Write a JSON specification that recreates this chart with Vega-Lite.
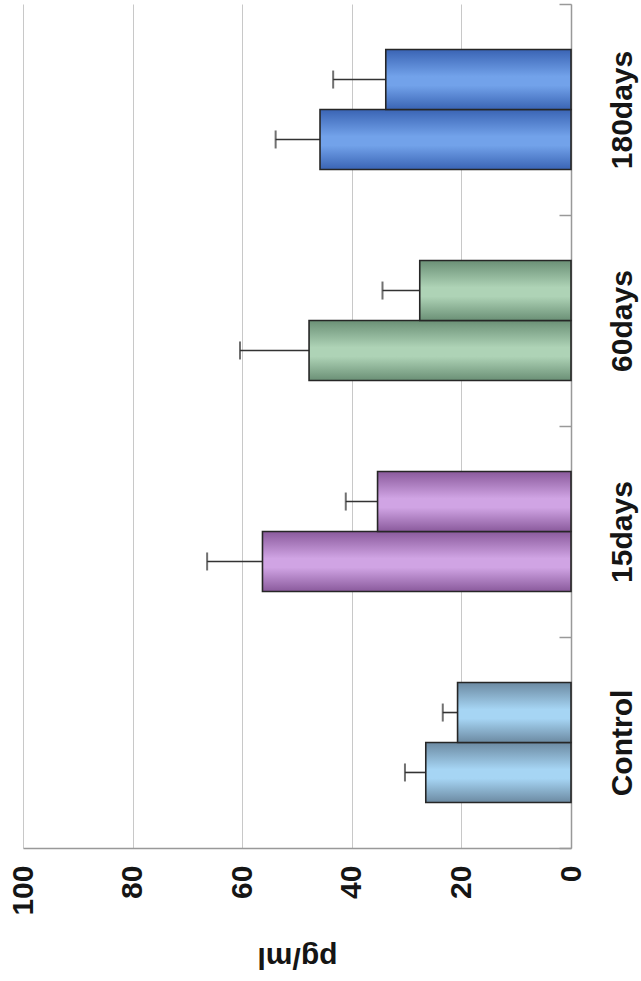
{
  "$schema": "https://vega.github.io/schema/vega-lite/v6.json",
  "width": 548,
  "height": 844,
  "autosize": {"type": "none"},
  "padding": {"left": 23, "top": 4, "right": 70, "bottom": 133},
  "background": "white",
  "config": {
    "view": {"stroke": null},
    "font": "Liberation Sans",
    "axisX": {
      "grid": true,
      "gridColor": "#c8c8c8",
      "gridWidth": 1,
      "domainColor": "#999999",
      "domainWidth": 1.5,
      "ticks": false,
      "labelAngle": -90,
      "labelAlign": "right",
      "labelBaseline": "middle",
      "labelFont": "Liberation Sans",
      "labelFontSize": 30,
      "labelFontWeight": "bold",
      "labelColor": "#151515",
      "labelPadding": 17,
      "titleAngle": 180,
      "titleBaseline": "bottom",
      "titleFont": "Liberation Sans",
      "titleFontSize": 30,
      "titleFontWeight": "bold",
      "titleColor": "#151515",
      "titlePadding": 26
    },
    "axisY": {
      "grid": false,
      "domainColor": "#999999",
      "domainWidth": 1.5,
      "ticks": true,
      "tickColor": "#999999",
      "tickSize": -12,
      "tickWidth": 1.5,
      "tickBand": "extent",
      "labelAngle": -90,
      "labelAlign": "center",
      "labelBaseline": "top",
      "labelFont": "Liberation Sans",
      "labelFontSize": 30,
      "labelFontWeight": "bold",
      "labelColor": "#151515",
      "labelPadding": 48
    }
  },
  "data": {
    "values": [
      {"group": "Control", "series": "S1", "value": 26.5, "hi": 30.3},
      {"group": "Control", "series": "S2", "value": 20.7, "hi": 23.4},
      {"group": "15days", "series": "S1", "value": 56.3, "hi": 66.4},
      {"group": "15days", "series": "S2", "value": 35.3, "hi": 41.1},
      {"group": "60days", "series": "S1", "value": 47.8, "hi": 60.4},
      {"group": "60days", "series": "S2", "value": 27.6, "hi": 34.4},
      {"group": "180days", "series": "S1", "value": 45.8, "hi": 53.9},
      {"group": "180days", "series": "S2", "value": 33.8, "hi": 43.4}
    ]
  },
  "encoding": {
    "y": {
      "field": "group",
      "type": "nominal",
      "sort": ["180days", "60days", "15days", "Control"],
      "scale": {"paddingInner": 0, "paddingOuter": 0},
      "axis": {"orient": "right", "title": null}
    },
    "yOffset": {
      "field": "series",
      "type": "nominal",
      "sort": ["S2", "S1"],
      "scale": {"paddingInner": 0, "paddingOuter": 0.76}
    }
  },
  "layer": [
    {
      "mark": {"type": "rule", "color": "#333333", "strokeWidth": 1.6},
      "encoding": {
        "x": {"field": "value", "type": "quantitative", "scale": {"domain": [0, 100], "reverse": true}, "title": "pg/ml", "axis": {"values": [0, 20, 40, 60, 80, 100]}},
        "x2": {"field": "hi"}
      }
    },
    {
      "mark": {"type": "tick", "color": "#333333", "thickness": 2, "size": 18},
      "encoding": {
        "x": {"field": "hi", "type": "quantitative", "scale": {"domain": [0, 100], "reverse": true}, "title": "pg/ml", "axis": {"values": [0, 20, 40, 60, 80, 100]}}
      }
    },
    {
      "mark": {"type": "bar", "stroke": "#262626", "strokeWidth": 1.6},
      "encoding": {
        "x": {"field": "value", "type": "quantitative", "scale": {"domain": [0, 100], "reverse": true}, "title": "pg/ml", "axis": {"values": [0, 20, 40, 60, 80, 100]}},
        "fill": {
          "condition": [
            {"test": "datum.group === 'Control'", "value": {"gradient": "linear", "x1": 0, "y1": 0, "x2": 0, "y2": 1, "stops": [{"offset": 0, "color": "#6c8aa2"}, {"offset": 0.45, "color": "#a6d5f4"}, {"offset": 0.6, "color": "#a6d5f4"}, {"offset": 1, "color": "#6c8aa2"}]}},
            {"test": "datum.group === '15days'", "value": {"gradient": "linear", "x1": 0, "y1": 0, "x2": 0, "y2": 1, "stops": [{"offset": 0, "color": "#8a5a9c"}, {"offset": 0.45, "color": "#d0a4e4"}, {"offset": 0.6, "color": "#d0a4e4"}, {"offset": 1, "color": "#8a5a9c"}]}},
            {"test": "datum.group === '60days'", "value": {"gradient": "linear", "x1": 0, "y1": 0, "x2": 0, "y2": 1, "stops": [{"offset": 0, "color": "#6b9076"}, {"offset": 0.45, "color": "#aed3b6"}, {"offset": 0.6, "color": "#aed3b6"}, {"offset": 1, "color": "#6b9076"}]}}
          ],
          "value": {"gradient": "linear", "x1": 0, "y1": 0, "x2": 0, "y2": 1, "stops": [{"offset": 0, "color": "#3a64b4"}, {"offset": 0.45, "color": "#72a2ea"}, {"offset": 0.6, "color": "#72a2ea"}, {"offset": 1, "color": "#3a64b4"}]}
        }
      }
    }
  ]
}
